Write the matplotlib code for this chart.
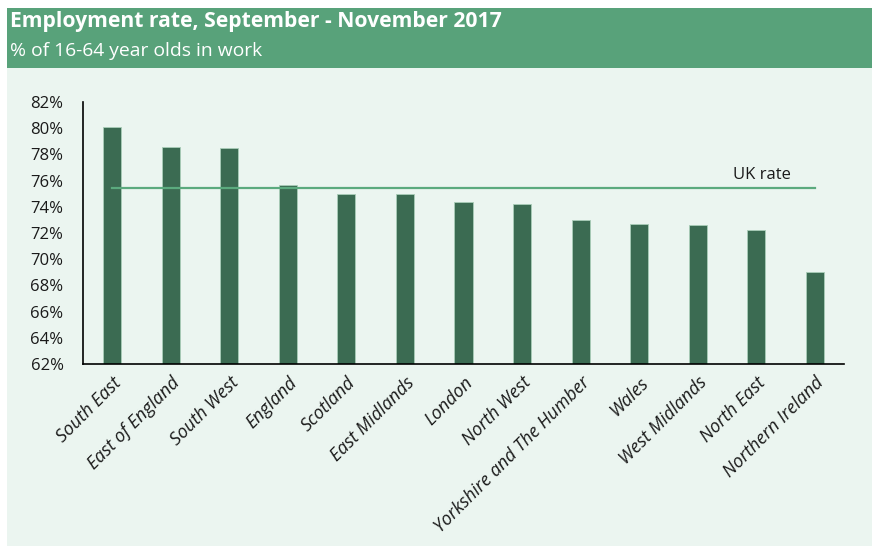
import matplotlib
matplotlib.use("Agg")
import matplotlib.pyplot as plt
from matplotlib.patches import Rectangle
from matplotlib.ticker import FuncFormatter

regions = ["South East", "East of England", "South West", "England", "Scotland",
           "East Midlands", "London", "North West", "Yorkshire and The Humber",
           "Wales", "West Midlands", "North East", "Northern Ireland"]
rates = [80.1, 78.6, 78.5, 75.7, 75.0, 75.0, 74.4, 74.2, 73.0, 72.7, 72.6, 72.2, 69.0]
uk_rate = 75.4
y_ticks = [62, 64, 66, 68, 70, 72, 74, 76, 78, 80, 82]

title = "Employment rate, September - November 2017"
subtitle = "% of 16-64 year olds in work"

HEADER = "#58A27A"
PANEL = "#EBF5F0"
BAR = "#3B6B52"
LINE = "#5BAA7E"
TEXT = "#1A1A1A"

plt.rcParams["font.family"] = ["Open Sans", "DejaVu Sans"]

W, H = 872, 546
fig = plt.figure(figsize=(W / 100, H / 100), dpi=100)
fig.patch.set_facecolor("white")

# background panel and header band
fig.add_artist(Rectangle((7 / W, 0), 1 - 7 / W, 1 - 68 / H, transform=fig.transFigure,
                         facecolor=PANEL, edgecolor="none", zorder=0))
fig.add_artist(Rectangle((7 / W, 1 - 68 / H), 1 - 7 / W, 60 / H, transform=fig.transFigure,
                         facecolor=HEADER, edgecolor="none", zorder=0))
fig.text(10 / W, 1 - 21 / H, title, color="white", fontsize=15.2, fontweight="bold",
         va="center", ha="left")
fig.text(10 / W, 1 - 51 / H, subtitle, color="white", fontsize=13.9,
         va="center", ha="left")

left, right = 83, 844
top, bottom = 102, 364
ax = fig.add_axes([left / W, 1 - bottom / H, (right - left) / W, (bottom - top) / H])
ax.set_facecolor("none")

x = list(range(len(regions)))
ax.bar(x, [r - y_ticks[0] for r in rates], bottom=y_ticks[0], width=0.31,
       color=BAR, edgecolor="#A9CDB8", linewidth=0.6, zorder=2)
ax.plot([x[0], x[-1]], [uk_rate, uk_rate], color=LINE, linewidth=1.6, zorder=3)
ax.text(11.1, uk_rate + 0.4, "UK rate", color=TEXT, fontsize=12, ha="center",
        va="bottom")

ax.set_xlim(-0.5, len(regions) - 0.5)
ax.set_ylim(y_ticks[0], y_ticks[-1])
ax.set_yticks(y_ticks)
ax.yaxis.set_major_formatter(FuncFormatter(lambda v, p: f"{v:.0f}%"))
ax.set_xticks(x)
ax.set_xticklabels(regions, rotation=45, ha="right", rotation_mode="anchor",
                   fontstyle="italic", fontsize=13, color=TEXT)
ax.tick_params(axis="y", length=0, labelsize=12, labelcolor=TEXT, pad=14)
ax.tick_params(axis="x", length=0, pad=7)
for side in ("top", "right"):
    ax.spines[side].set_visible(False)
for side in ("left", "bottom"):
    ax.spines[side].set_color("black")
    ax.spines[side].set_linewidth(1.2)

fig.savefig("out.png", dpi=100, facecolor=fig.get_facecolor())
